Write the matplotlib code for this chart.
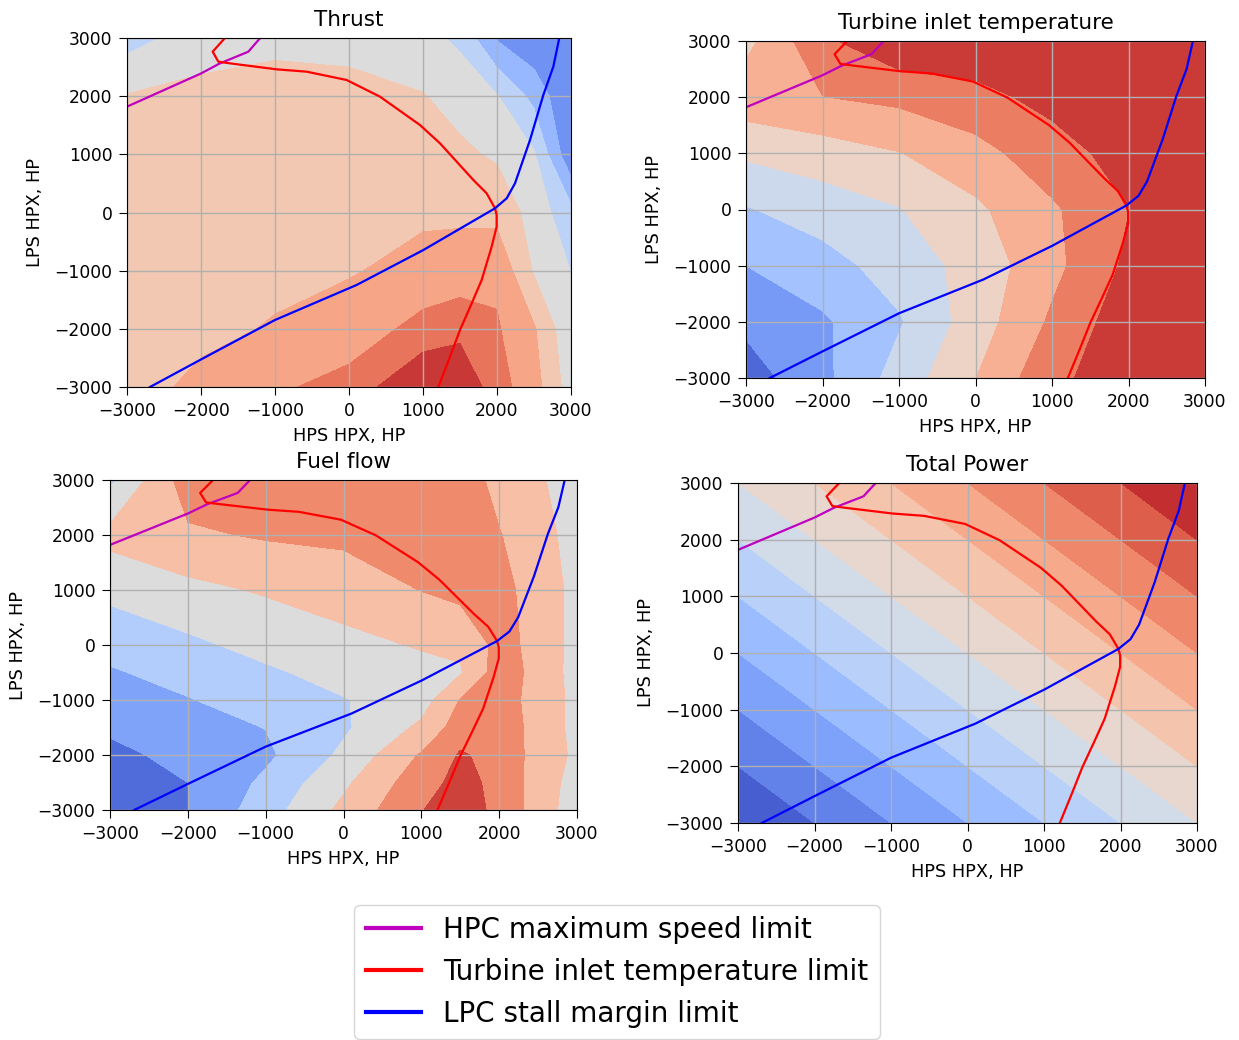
import numpy as np
import matplotlib
matplotlib.use("Agg")
import matplotlib.pyplot as plt
from matplotlib.lines import Line2D

# Grid nodes: high-pressure spool (x) and low-pressure spool (y) power extraction, HP
hps_hpx = [-3000, -2000, -1000, 0, 1000, 2000, 3000]
lps_hpx = [-3000, -2000, -1000, 0, 1000, 2000, 3000]

# Maps on their contour-level scale; rows follow the LPS nodes, columns the HPS nodes
thrust_hps = [-3000, -2000, -1000, 0, 1000, 1500, 2000, 2500, 3000]
thrust_map = [
    [5.75, 6.15, 6.80, 7.45, 8.90, 8.90, 7.40, 6.40, 4.50],
    [5.75, 5.85, 6.05, 6.30, 7.40, 7.70, 7.10, 6.10, 4.20],
    [5.70, 5.75, 5.85, 5.95, 6.20, 6.40, 6.80, 4.90, 3.98],
    [5.60, 5.65, 5.75, 5.85, 5.90, 5.85, 5.70, 4.60, 3.30],
    [5.40, 5.50, 5.55, 5.55, 5.45, 5.20, 4.85, 4.10, 1.20],
    [5.05, 5.30, 5.40, 5.35, 5.05, 4.60, 4.05, 2.70, 1.00],
    [3.60, 4.50, 4.75, 4.65, 4.30, 3.80, 1.90, 1.20, 1.10],
]
tit_map = [
    [0.50, 1.75, 3.40, 4.98, 6.75, 7.60, 7.70],
    [1.23, 1.85, 2.90, 4.49, 6.16, 7.60, 7.70],
    [2.00, 2.62, 3.43, 4.38, 5.71, 7.20, 7.70],
    [2.93, 3.45, 3.95, 4.81, 5.85, 6.98, 7.60],
    [4.17, 4.53, 4.96, 5.64, 6.58, 7.40, 7.70],
    [5.62, 5.98, 6.24, 6.70, 7.30, 7.60, 7.70],
    [4.70, 6.80, 7.80, 7.70, 7.70, 7.80, 7.80],
]

# Fuel flow is tabulated on a denser grid
fuel_hps = [-3000, -2000, -1000, 0, 1000, 1500, 2000, 2500, 3000]
fuel_lps = [-3000, -2500, -2000, -1500, -1000, -500, 0, 1000, 2000, 3000]
fuel_map = [
    [0.30, 0.98, 2.55, 4.25, 5.97, 6.40, 5.80, 4.50, 3.50],
    [0.45, 1.00, 2.20, 3.80, 5.60, 6.30, 5.75, 4.55, 3.60],
    [0.75, 1.30, 1.80, 3.20, 5.10, 6.10, 5.70, 4.61, 3.80],
    [1.15, 1.60, 2.02, 2.85, 4.20, 5.50, 5.60, 4.64, 3.70],
    [1.52, 1.95, 2.45, 2.95, 3.55, 5.05, 5.40, 4.67, 3.70],
    [1.90, 2.35, 2.85, 3.34, 3.70, 3.90, 5.50, 4.70, 3.60],
    [2.32, 2.80, 3.30, 3.71, 4.08, 4.18, 5.30, 4.74, 3.60],
    [3.26, 3.73, 4.10, 4.47, 5.02, 5.30, 5.30, 4.59, 3.70],
    [4.30, 4.85, 5.10, 5.20, 5.50, 5.45, 5.05, 4.38, 3.60],
    [2.80, 5.50, 5.55, 5.65, 5.65, 5.50, 4.71, 4.13, 3.50],
]

# Total extracted power, HP
total_power = [
    [-6000, -5000, -4000, -3000, -2000, -1000, 0],
    [-5000, -4000, -3000, -2000, -1000, 0, 1000],
    [-4000, -3000, -2000, -1000, 0, 1000, 2000],
    [-3000, -2000, -1000, 0, 1000, 2000, 3000],
    [-2000, -1000, 0, 1000, 2000, 3000, 4000],
    [-1000, 0, 1000, 2000, 3000, 4000, 5000],
    [0, 1000, 2000, 3000, 4000, 5000, 6000],
]

# Operating limits
hpc_speed_x = [-3000, -2000, -1750, -1360, -1200]
hpc_speed_y = [1820, 2390, 2560, 2765, 3000]
tit_limit_x = [-1676, -1842, -1766, -1608, -977, -572, -32, 419, 959, 1230, 1680,
               1860, 1973, 1995, 1995, 1928, 1793, 1658, 1500, 1365, 1207]
tit_limit_y = [3000, 2765, 2593, 2564, 2461, 2421, 2278, 1991, 1504, 1189, 559,
               330, 72, -43, -244, -587, -1160, -1562, -2020, -2479, -3000]
lpc_stall_x = [-2689, -2014, -1000, 103, 1005, 1973, 2131, 2243, 2446, 2626, 2761, 2842]
lpc_stall_y = [-3000, -2536, -1848, -1246, -645, 72, 244, 501, 1246, 2020, 2507, 3000]

ticks = [-3000, -2000, -1000, 0, 1000, 2000, 3000]

W, H = 1239, 1040
fig = plt.figure(figsize=(W / 100, H / 100), dpi=100)


def rect(left, top, right, bottom):
    return [left / W, 1 - bottom / H, (right - left) / W, (bottom - top) / H]


panels = [
    ("Thrust", thrust_hps, lps_hpx, thrust_map, np.arange(0, 10), rect(127, 38, 571, 387)),
    ("Turbine inlet temperature", hps_hpx, lps_hpx, tit_map, np.arange(0, 9),
     rect(746, 41, 1205, 378)),
    ("Fuel flow", fuel_hps, fuel_lps, fuel_map, np.arange(0, 8), rect(110, 480, 577, 810)),
    ("Total Power", hps_hpx, lps_hpx, total_power, np.arange(-6000, 6001, 1000),
     rect(738, 483, 1197, 823)),
]

for title, xs, ys, z, levels, pos in panels:
    ax = fig.add_axes(pos)
    X, Y = np.meshgrid(xs, ys)
    ax.contourf(X, Y, np.array(z, dtype=float), levels=levels, cmap="coolwarm")
    ax.plot(hpc_speed_x, hpc_speed_y, color="m", lw=1.6)
    ax.plot(tit_limit_x, tit_limit_y, color="r", lw=1.6)
    ax.plot(lpc_stall_x, lpc_stall_y, color="b", lw=1.6)
    ax.set_xlim(-3000, 3000)
    ax.set_ylim(-3000, 3000)
    ax.set_xticks(ticks)
    ax.set_yticks(ticks)
    ax.tick_params(labelsize=12.3, length=5.5, pad=5)
    ax.grid(True, color="#b0b0b0", lw=1.0)
    ax.set_title(title, fontsize=15.5, pad=8.5)
    ax.set_xlabel("HPS HPX, HP", fontsize=12.8, labelpad=5.5)
    ax.set_ylabel("LPS HPX, HP", fontsize=12.8, labelpad=7.5)

handles = [
    Line2D([], [], color="m", lw=3),
    Line2D([], [], color="r", lw=3),
    Line2D([], [], color="b", lw=3),
]
labels = ["HPC maximum speed limit", "Turbine inlet temperature limit", "LPC stall margin limit"]
fig.legend(handles, labels, loc="upper center", bbox_to_anchor=(617 / W, 1 - 905 / H),
           borderaxespad=0, fontsize=20, handlelength=2.0)

fig.savefig("out.png", dpi=100)
